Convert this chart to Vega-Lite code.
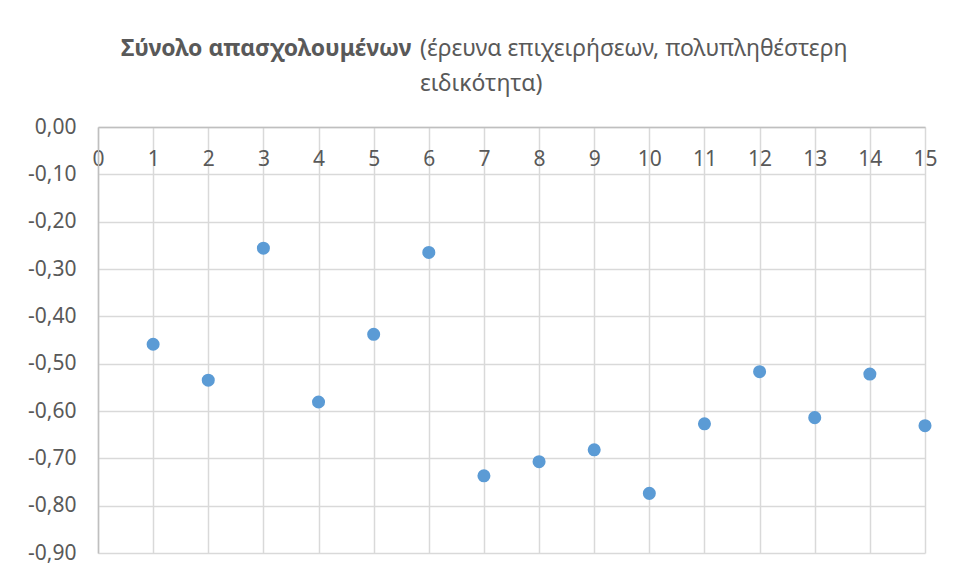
{
  "$schema": "https://vega.github.io/schema/vega-lite/v6.json",
  "width": 827,
  "height": 426,
  "autosize": {"type": "none"},
  "padding": {"left": 98, "top": 127, "right": 31, "bottom": 25},
  "background": "white",
  "config": {
    "view": {"stroke": null},
    "locale": {"number": {"decimal": ",", "thousands": ".", "grouping": [3], "currency": ["", " €"], "minus": "-"}},
    "font": "Noto Sans"
  },
  "title": {
    "text": "Σύνολο απασχολουμένων",
    "subtitle": [
      "\u200b\u00a0\u00a0\u00a0\u00a0\u00a0\u00a0\u00a0\u00a0\u00a0\u00a0\u00a0\u00a0\u00a0\u00a0\u00a0\u00a0\u00a0\u00a0\u00a0\u00a0\u00a0\u00a0\u00a0\u00a0\u00a0\u00a0\u00a0\u00a0\u00a0\u00a0\u00a0\u00a0\u00a0\u00a0\u00a0\u00a0\u00a0\u00a0\u00a0\u00a0\u00a0\u00a0\u00a0\u00a0\u00a0\u00a0\u00a0\u00a0\u00a0\u00a0(έρευνα επιχειρήσεων, πολυπληθέστερη",
      "\u200b\u00a0\u00a0\u00a0\u00a0\u00a0\u00a0\u00a0\u00a0\u00a0\u00a0\u00a0\u00a0\u00a0\u00a0\u00a0\u00a0\u00a0\u00a0\u00a0\u00a0\u00a0\u00a0\u00a0\u00a0\u00a0\u00a0\u00a0\u00a0\u00a0\u00a0\u00a0\u00a0\u00a0\u00a0\u00a0\u00a0\u00a0\u00a0\u00a0\u00a0\u00a0\u00a0\u00a0\u00a0\u00a0\u00a0\u00a0\u00a0\u00a0\u00a0ειδικότητα)"
    ],
    "anchor": "start",
    "frame": "group",
    "dx": 23,
    "offset": 20,
    "font": "Noto Sans",
    "fontSize": 23,
    "fontWeight": "bold",
    "color": "#595959",
    "subtitleFont": "Noto Sans",
    "subtitleFontSize": 23,
    "subtitleFontWeight": "normal",
    "subtitleColor": "#595959",
    "subtitleLineHeight": 35,
    "subtitlePadding": -23
  },
  "data": {
    "values": [
      {"x": 1, "y": -0.459},
      {"x": 2, "y": -0.535},
      {"x": 3, "y": -0.256},
      {"x": 4, "y": -0.581},
      {"x": 5, "y": -0.438},
      {"x": 6, "y": -0.265},
      {"x": 7, "y": -0.737},
      {"x": 8, "y": -0.707},
      {"x": 9, "y": -0.682},
      {"x": 10, "y": -0.774},
      {"x": 11, "y": -0.627},
      {"x": 12, "y": -0.517},
      {"x": 13, "y": -0.614},
      {"x": 14, "y": -0.522},
      {"x": 15, "y": -0.631}
    ]
  },
  "mark": {"type": "point", "filled": true, "opacity": 1, "size": 170, "color": "#5b9bd5"},
  "encoding": {
    "x": {
      "field": "x",
      "type": "quantitative",
      "scale": {"domain": [0, 15], "nice": false, "zero": false},
      "axis": {
        "orient": "top",
        "title": null,
        "values": [0,1,2,3,4,5,6,7,8,9,10,11,12,13,14,15],
        "grid": true,
        "gridColor": "#d9d9d9",
        "gridWidth": 1.5,
        "domain": true,
        "domainColor": "#bfbfbf",
        "domainWidth": 1.5,
        "ticks": false,
        "tickSize": 0,
        "labelFont": "Noto Sans",
        "labelFontSize": 21,
        "labelColor": "#595959",
        "labelBaseline": "top",
        "labelPadding": -21,
        "labelFlush": false,
        "labelOverlap": false
      }
    },
    "y": {
      "field": "y",
      "type": "quantitative",
      "scale": {"domain": [-0.9, 0], "nice": false, "zero": false},
      "axis": {
        "title": null,
        "values": [0, -0.1, -0.2, -0.3, -0.4, -0.5, -0.6, -0.7, -0.8, -0.9],
        "format": ".2f",
        "grid": true,
        "gridColor": "#d9d9d9",
        "gridWidth": 1.5,
        "domain": true,
        "domainColor": "#bfbfbf",
        "domainWidth": 1.5,
        "ticks": false,
        "tickSize": 0,
        "labelFont": "Noto Sans",
        "labelFontSize": 21,
        "labelColor": "#595959",
        "labelPadding": 22,
        "labelFlush": false,
        "labelOverlap": false
      }
    }
  }
}
